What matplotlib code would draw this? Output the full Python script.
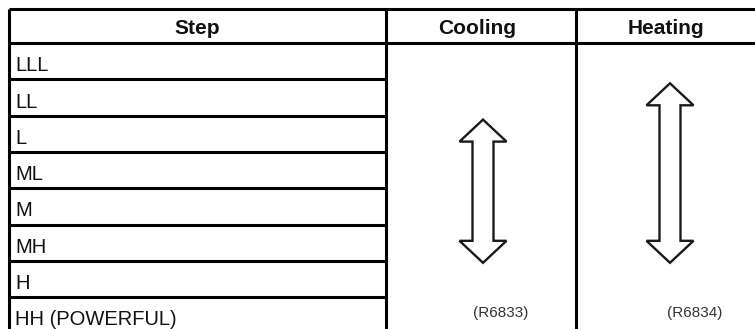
import matplotlib.pyplot as plt
from matplotlib.patches import Polygon

plt.rcParams['font.family'] = ['Liberation Sans', 'DejaVu Sans']

# table content
columns = ['Step', 'Cooling', 'Heating']
steps = ['LLL', 'LL', 'L', 'ML', 'M', 'MH', 'H', 'HH (POWERFUL)']
# arrow range of each mode: (first step, last step)
cooling_range = ('L', 'MH')
heating_range = ('LL', 'MH')
codes = ['(R6833)', '(R6834)']

# layout in pixels
W, H = 755, 329
left, top = 9, 9
head_bot = 43
row_h = 36.3
col_x = [left, 386, 576, W]
line_c = '#000000'
lw = 2.2

fig = plt.figure(figsize=(W / 100, H / 100), dpi=100)
ax = fig.add_axes([0, 0, 1, 1])
ax.set_xlim(0, W)
ax.set_ylim(H, 0)
ax.axis('off')

# grid
ax.plot([left, W], [top, top], color=line_c, lw=lw, solid_capstyle='butt')
ax.plot([left, W], [head_bot, head_bot], color=line_c, lw=lw, solid_capstyle='butt')
for x in col_x[:3]:
    ax.plot([x, x], [top, H], color=line_c, lw=lw, solid_capstyle='butt')
for i in range(1, len(steps)):
    y = head_bot + i * row_h
    ax.plot([left, col_x[1]], [y, y], color=line_c, lw=lw, solid_capstyle='butt')

# header
centers = [197, 477, 666]
for name, cx in zip(columns, centers):
    ax.text(cx, 34, name, ha='center', va='baseline', fontsize=15,
            fontweight='bold', color='#111111')

# step labels
for i, s in enumerate(steps):
    y = head_bot + (i + 1) * row_h - 8
    ax.text(15, y, s, ha='left', va='baseline', fontsize=14.5, color='#111111')


def double_arrow(cx, rng):
    y0 = head_bot + steps.index(rng[0]) * row_h + 4
    y1 = head_bot + (steps.index(rng[1]) + 1) * row_h + 2
    hw, sw, hh = 23.5, 10.5, 22
    pts = [(cx, y0), (cx + hw, y0 + hh), (cx + sw, y0 + hh),
           (cx + sw, y1 - hh), (cx + hw, y1 - hh), (cx, y1),
           (cx - hw, y1 - hh), (cx - sw, y1 - hh), (cx - sw, y0 + hh),
           (cx - hw, y0 + hh)]
    ax.add_patch(Polygon(pts, closed=True, facecolor='white',
                         edgecolor='#1a1a1a', lw=1.7, joinstyle='miter'))


double_arrow(483, cooling_range)
double_arrow(670, heating_range)

# figure codes
ax.text(501, 317, codes[0], ha='center', va='baseline', fontsize=11, color='#333333')
ax.text(695, 317, codes[1], ha='center', va='baseline', fontsize=11, color='#333333')

fig.savefig('out.png', dpi=100)
